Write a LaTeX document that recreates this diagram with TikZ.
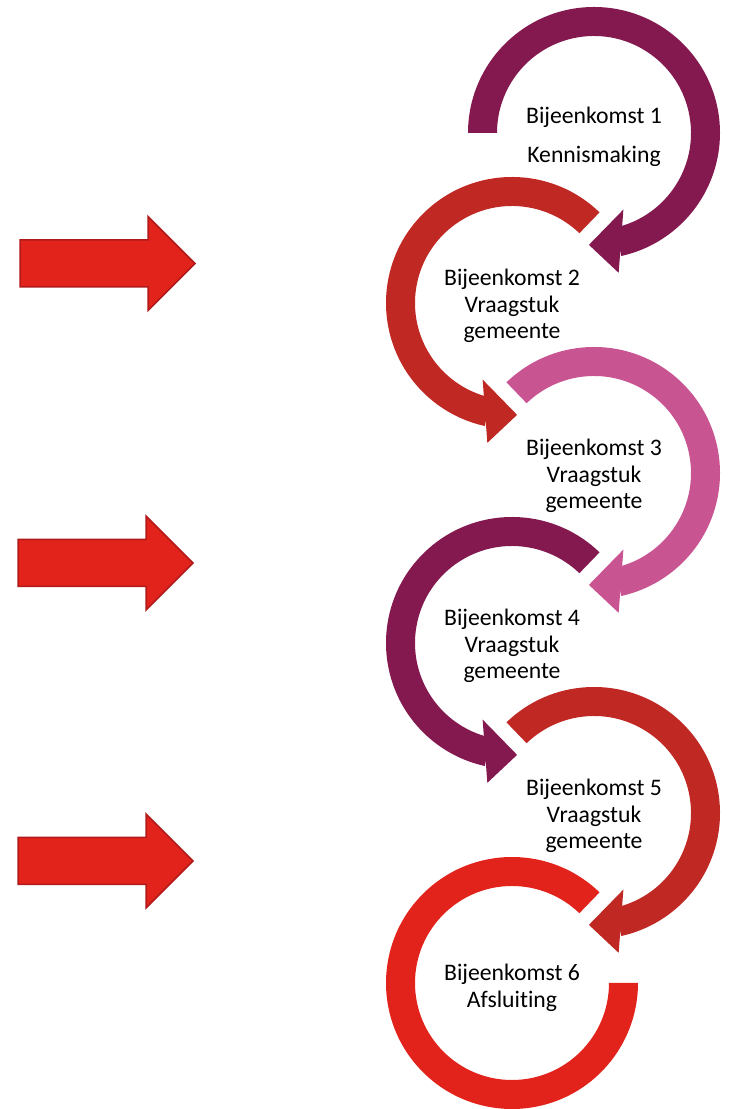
\documentclass[tikz,border=0pt]{standalone}
\usepackage{fontspec}
\setmainfont{Carlito}[Ligatures=NoCommon]
\usetikzlibrary{calc}
\definecolor{pruim}{RGB}{132,25,80}
\definecolor{donkerrood}{RGB}{192,40,36}
\definecolor{roze}{RGB}{201,84,146}
\definecolor{helderrood}{RGB}{226,35,27}
\definecolor{pijlrand}{RGB}{176,26,26}
\tikzset{
  blokpijl/.style={fill=helderrood,draw=pijlrand,line width=1.5pt,line join=miter},
  tekst/.style={align=center,inner sep=0pt,font=\fontsize{23.7}{26.5}\selectfont}
}

\begin{document}
\begin{tikzpicture}[x=1pt,y=1pt]
  \useasboundingbox (0,0) rectangle (731,1109);
  % blokpijlen links
  \foreach \px/\py in {20/845.5,18/546,18/248}
    \draw[blokpijl] (\px,\py-23.5) -- (\px+128,\py-23.5) -- (\px+128,\py-47) -- (\px+175,\py)
      -- (\px+128,\py+47) -- (\px+128,\py+23.5) -- (\px,\py+23.5) -- cycle;
  % cirkelpijlen
  \foreach \cx/\cy/\ts/\te/\ai/\ao/\at/\kleur in {
      594/976/180/-77.5/-69/-80/-92.6/pruim,
      512/806/46/257.5/249/260/272.6/donkerrood,
      594/636/134/-77.5/-69/-80/-92.6/roze,
      512/466/46/257.5/249/260/272.6/pruim,
      594/296/134/-77.5/-69/-80/-92.6/donkerrood}{
    \fill[\kleur] (\cx,\cy) ++(\ts:126) arc[start angle=\ts,end angle=\te,radius=126]
      -- ($(\cx,\cy)+(\te:97)$) arc[start angle=\te,end angle=\ts,radius=97] -- cycle;
    \fill[\kleur] ($(\cx,\cy)+(\ai:82)$) -- ($(\cx,\cy)+(\ao:142)$)
      -- ($(\cx,\cy)+(\at:112)$) -- cycle;
  }
  % laatste cirkel zonder punt
  \fill[helderrood] (512,126) ++(46:126) arc[start angle=46,end angle=360,radius=126]
    -- (609,126) arc[start angle=360,end angle=46,radius=97] -- cycle;
  % teksten
  \node[tekst] (b1) at (594,972) {Bijeenkomst 1\\[13pt]Kennismaking};
  \node[tekst] (b2) at (512,803) {Bijeenkomst 2\\Vraagstuk\\gemeente};
  \node[tekst] (b3) at (594,633) {Bijeenkomst 3\\Vraagstuk\\gemeente};
  \node[tekst] (b4) at (512,463) {Bijeenkomst 4\\Vraagstuk\\gemeente};
  \node[tekst] (b5) at (594,293) {Bijeenkomst 5\\Vraagstuk\\gemeente};
  \node[tekst] (b6) at (512,121) {Bijeenkomst 6\\Afsluiting};
\end{tikzpicture}
\end{document}
